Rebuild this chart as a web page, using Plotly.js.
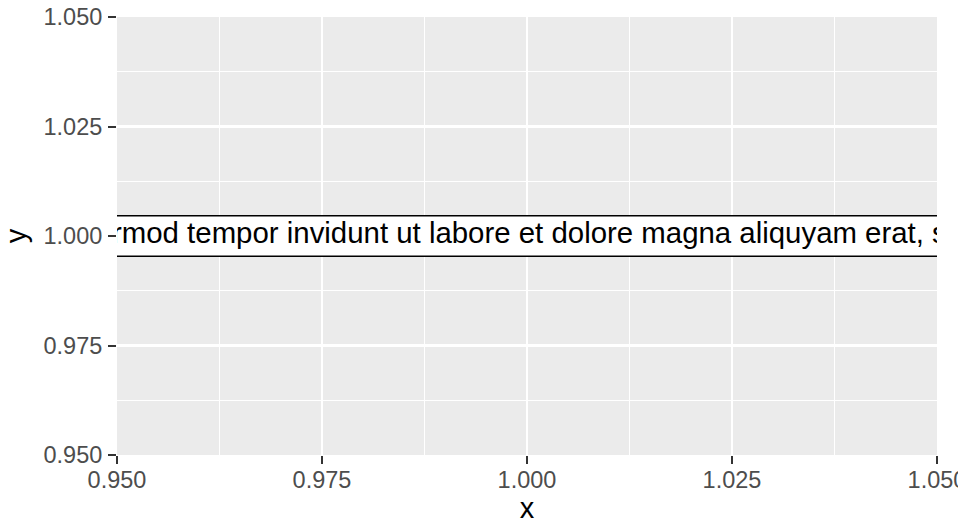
<!DOCTYPE html>
<html>
<head>
<meta charset="utf-8">
<script src="https://cdn.plot.ly/plotly-3.0.1.min.js"></script>
<style>html,body{margin:0;padding:0;background:#fff;}#chart{width:958px;height:524px;}</style>
</head>
<body>
<div id="chart"></div>
<script>
const labelX = [1.0];
const labelY = [1.0];
const labelText = ["Lorem ipsum dolor sit amet, consetetur sadipscing elitr, sed diam nonumy eirmod tempor invidunt ut labore et dolore magna aliquyam erat, sed diam voluptua. At vero eos et accusam et justo duo dolores et ea rebum."];
const xTicks = [0.950, 0.975, 1.000, 1.025, 1.050];
const yTicks = [0.950, 0.975, 1.000, 1.025, 1.050];
const xRange = [0.95, 1.05];
const yRange = [0.95, 1.05];

const font = "Liberation Sans, Arial, Helvetica, sans-serif";
const titleFont = {family: font, size: 29, color: "#000000"};

const trace = {
  x: labelX, y: labelY, text: labelText,
  type: "scatter", mode: "text",
  textposition: "middle center",
  textfont: {family: font, size: 29.4, color: "#000000"},
  cliponaxis: true, hoverinfo: "skip", showlegend: false
};

function axis(ticks, range) {
  return {
    range: range, autorange: false,
    tickmode: "array", tickvals: ticks, ticktext: ticks.map(v => v.toFixed(3)),
    ticks: "outside", ticklen: 8, tickwidth: 2, tickcolor: "#333333",
    tickfont: {family: font, size: 23.5, color: "#4D4D4D"},
    ticklabeloverflow: "allow",
    showgrid: true, gridcolor: "#FFFFFF", gridwidth: 2.2,
    minor: {dtick: 0.0125, tick0: 0.95, showgrid: true, gridcolor: "#FFFFFF", gridwidth: 1.1, ticks: ""},
    zeroline: false, showline: false,
    fixedrange: true
  };
}

const layout = {
  width: 958, height: 524,
  margin: {l: 117, r: 21, t: 17, b: 69},
  paper_bgcolor: "#FFFFFF", plot_bgcolor: "#EBEBEB",
  xaxis: Object.assign(axis(xTicks, xRange), {ticklabelstandoff: -4, title: {text: "x", standoff: 2, font: titleFont}}),
  yaxis: Object.assign(axis(yTicks, yRange), {ticklabelstandoff: 1, title: {text: "y", standoff: 10, font: titleFont}}),
  shapes: [{
    type: "rect", layer: "between",
    xref: "x", yref: "y",
    xsizemode: "pixel", ysizemode: "pixel",
    xanchor: labelX[0], yanchor: labelY[0],
    x0: -1600, x1: 1600, y0: -20.3, y1: 20.3,
    fillcolor: "#FFFFFF", line: {color: "#000000", width: 1.4}
  }],
  showlegend: false
};

Plotly.newPlot("chart", [trace], layout, {staticPlot: true, displayModeBar: false});
</script>
</body>
</html>
